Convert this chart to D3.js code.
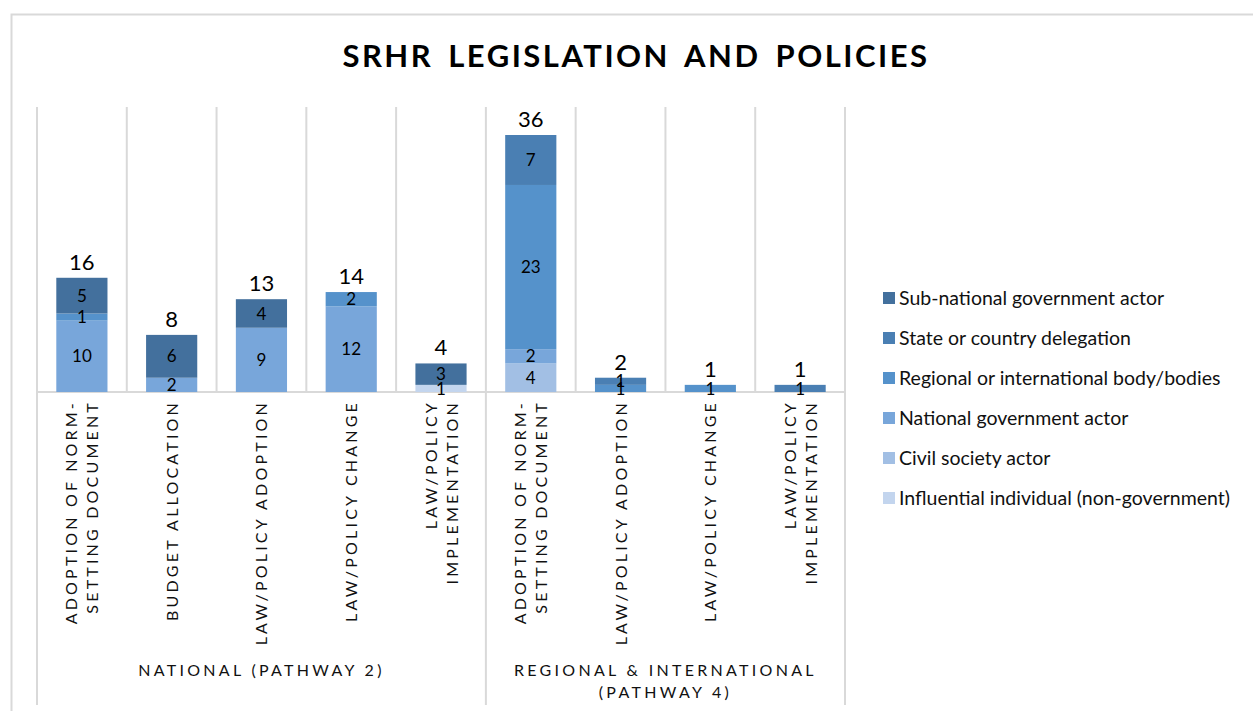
<!DOCTYPE html>
<html>
<head>
<meta charset="utf-8">
<script src="https://cdn.jsdelivr.net/npm/d3@7"></script>
<style>
  html, body { margin: 0; padding: 0; background: #fff; }
  svg { display: block; font-family: Lato, "Open Sans", sans-serif; }
</style>
</head>
<body>
<div id="chart"></div>
<script>
var categories = [
  ["ADOPTION OF NORM-", "SETTING DOCUMENT"],
  ["BUDGET ALLOCATION"],
  ["LAW/POLICY ADOPTION"],
  ["LAW/POLICY CHANGE"],
  ["LAW/POLICY", "IMPLEMENTATION"],
  ["ADOPTION OF NORM-", "SETTING DOCUMENT"],
  ["LAW/POLICY ADOPTION"],
  ["LAW/POLICY CHANGE"],
  ["LAW/POLICY", "IMPLEMENTATION"]
];
var groups = [
  { lines: ["NATIONAL (PATHWAY 2)"], from: 0, to: 4 },
  { lines: ["REGIONAL & INTERNATIONAL", "(PATHWAY 4)"], from: 5, to: 8 }
];
// stack order, bottom to top
var seriesNames = [
  "Influential individual (non-government)",
  "Civil society actor",
  "National government actor",
  "Regional or international body/bodies",
  "State or country delegation",
  "Sub-national government actor"
];
var influential = [0, 0, 0, 0, 1, 0, 0, 0, 0];
var civilSociety = [0, 0, 0, 0, 0, 4, 0, 0, 0];
var nationalGov = [10, 2, 9, 12, 0, 2, 0, 0, 0];
var regionalBody = [1, 0, 0, 2, 0, 23, 1, 1, 0];
var stateDelegation = [0, 0, 0, 0, 0, 7, 1, 0, 1];
var subNational = [5, 6, 4, 0, 3, 0, 0, 0, 0];
var colors = ["#c3d5ee", "#a2bfe4", "#78a6da", "#5592cb", "#4a7fb3", "#43709d"];

var width = 1253, height = 711;
var margin = { left: 37, right: 408, top: 107, bottom: 319 };

var seriesValues = [influential, civilSociety, nationalGov, regionalBody, stateDelegation, subNational];
var rows = categories.map(function (c, i) {
  var r = { i: i };
  seriesNames.forEach(function (s, k) { r[s] = seriesValues[k][i]; });
  return r;
});

var svg = d3.select("#chart").append("svg")
  .attr("width", width).attr("height", height);

// outer chart border
svg.append("path")
  .attr("d", "M11.5," + height + "V14.5H" + width)
  .attr("fill", "none").attr("stroke", "#d9d9d9").attr("stroke-width", 2);

var x = d3.scaleBand()
  .domain(d3.range(categories.length))
  .range([margin.left, width - margin.right])
  .paddingInner(0.43).paddingOuter(0.215);

var y = d3.scaleLinear()
  .domain([0, 36])
  .range([height - margin.bottom, 135]);

var step = x.step();
var x0 = margin.left;
var base = y(0);

// vertical separators
var grid = svg.append("g").attr("stroke", "#d9d9d9").attr("stroke-width", 2);
d3.range(categories.length + 1).forEach(function (k) {
  var gx = x0 + k * step;
  var isGroup = k === 0 || k === 5 || k === categories.length;
  grid.append("line")
    .attr("x1", gx).attr("x2", gx)
    .attr("y1", margin.top).attr("y2", isGroup ? 705 : base);
});
grid.append("line")
  .attr("x1", x0).attr("x2", x0 + categories.length * step)
  .attr("y1", base).attr("y2", base);

var stack = d3.stack().keys(seriesNames);
var layers = stack(rows);

var layerG = svg.selectAll("g.layer").data(layers).enter().append("g")
  .attr("class", "layer")
  .attr("fill", function (d, k) { return colors[k]; });

layerG.selectAll("rect").data(function (d) { return d; }).enter().append("rect")
  .filter(function (d) { return d[1] > d[0]; })
  .attr("x", function (d) { return x(d.data.i); })
  .attr("width", x.bandwidth())
  .attr("y", function (d) { return y(d[1]); })
  .attr("height", function (d) { return y(d[0]) - y(d[1]); });

// segment labels
layers.forEach(function (layer) {
  layer.forEach(function (d) {
    var v = d[1] - d[0];
    if (v <= 0) return;
    svg.append("text")
      .attr("x", x(d.data.i) + x.bandwidth() / 2)
      .attr("y", (y(d[0]) + y(d[1])) / 2)
      .attr("dy", "0.36em")
      .attr("text-anchor", "middle")
      .attr("font-size", 17)
      .attr("fill", "#000")
      .text(v);
  });
});

// totals
rows.forEach(function (r, i) {
  var total = d3.sum(seriesNames, function (s) { return r[s]; });
  svg.append("text")
    .attr("x", x(i) + x.bandwidth() / 2)
    .attr("y", y(total) - 8)
    .attr("text-anchor", "middle")
    .attr("font-size", 22)
    .attr("fill", "#000")
    .text(total);
});

// category labels (rotated)
categories.forEach(function (lines, i) {
  var cx = x(i) + x.bandwidth() / 2;
  var n = lines.length;
  lines.forEach(function (ln, j) {
    var lx = cx + (j - (n - 1) / 2) * 21 + 6;
    svg.append("text")
      .attr("transform", "translate(" + lx + ",400) rotate(-90)")
      .attr("text-anchor", "end")
      .attr("font-size", 16)
      .attr("letter-spacing", 3.2)
      .attr("fill", "#111")
      .text(ln);
  });
});

// group labels
groups.forEach(function (g) {
  var gx = (x0 + g.from * step + x0 + (g.to + 1) * step) / 2;
  g.lines.forEach(function (ln, j) {
    svg.append("text")
      .attr("x", gx)
      .attr("y", 676 + j * 22)
      .attr("text-anchor", "middle")
      .attr("font-size", 16)
      .attr("letter-spacing", 3.3)
      .attr("fill", "#111")
      .text(ln);
  });
});

// title
svg.append("text")
  .attr("x", 636).attr("y", 67)
  .attr("text-anchor", "middle")
  .attr("font-size", 31)
  .attr("font-weight", "bold")
  .attr("letter-spacing", 2.5)
  .attr("word-spacing", 5)
  .attr("fill", "#000")
  .text("SRHR LEGISLATION AND POLICIES");

// legend, top to bottom = darkest to lightest
var legendItems = seriesNames.map(function (s, k) { return { name: s, color: colors[k] }; }).reverse();
var legend = svg.append("g").attr("transform", "translate(883,298)");
legendItems.forEach(function (d, j) {
  var row = legend.append("g").attr("transform", "translate(0," + j * 40 + ")");
  row.append("rect").attr("x", 0).attr("y", -6).attr("width", 12).attr("height", 12).attr("fill", d.color);
  row.append("text").attr("x", 16).attr("y", 0).attr("dy", "0.35em")
    .attr("font-size", 19.5).attr("fill", "#111").text(d.name);
});
</script>
</body>
</html>
